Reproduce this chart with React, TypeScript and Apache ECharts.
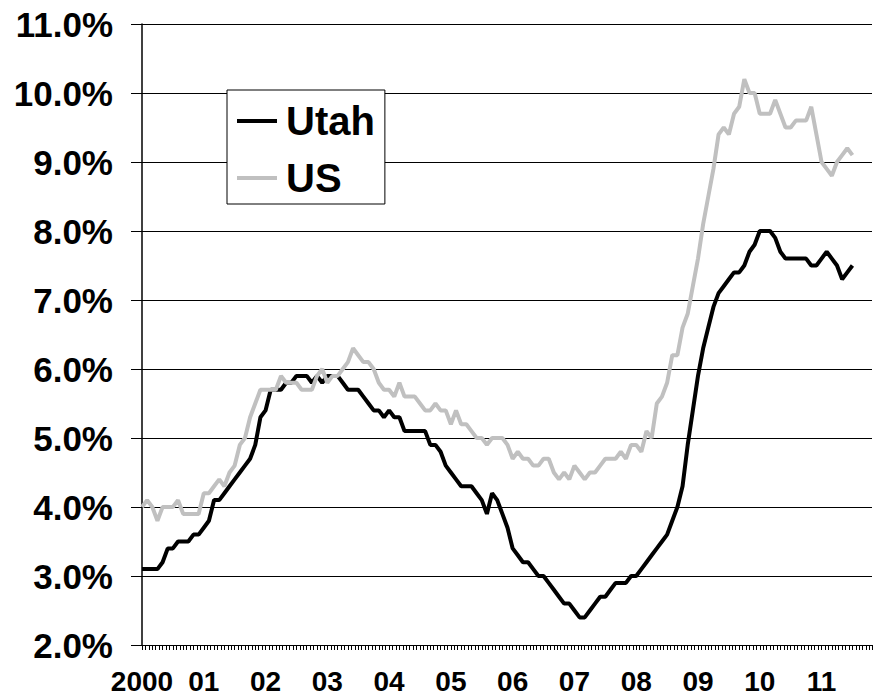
import React, { useEffect, useRef } from "react";
import * as echarts from "echarts";

// Monthly unemployment rate, Jan 2000 – Jul 2011 (percent)
const utahRate: number[] = [
  3.1, 3.1, 3.1, 3.1, 3.2, 3.4, 3.4, 3.5, 3.5, 3.5, 3.6, 3.6,
  3.7, 3.8, 4.1, 4.1, 4.2, 4.3, 4.4, 4.5, 4.6, 4.7, 4.9, 5.3,
  5.4, 5.7, 5.7, 5.7, 5.8, 5.8, 5.9, 5.9, 5.9, 5.8, 5.9, 5.8,
  5.9, 5.9, 5.9, 5.8, 5.7, 5.7, 5.7, 5.6, 5.5, 5.4, 5.4, 5.3,
  5.4, 5.3, 5.3, 5.1, 5.1, 5.1, 5.1, 5.1, 4.9, 4.9, 4.8, 4.6,
  4.5, 4.4, 4.3, 4.3, 4.3, 4.2, 4.1, 3.9, 4.2, 4.1, 3.9, 3.7,
  3.4, 3.3, 3.2, 3.2, 3.1, 3.0, 3.0, 2.9, 2.8, 2.7, 2.6, 2.6,
  2.5, 2.4, 2.4, 2.5, 2.6, 2.7, 2.7, 2.8, 2.9, 2.9, 2.9, 3.0,
  3.0, 3.1, 3.2, 3.3, 3.4, 3.5, 3.6, 3.8, 4.0, 4.3, 4.9, 5.4,
  5.9, 6.3, 6.6, 6.9, 7.1, 7.2, 7.3, 7.4, 7.4, 7.5, 7.7, 7.8,
  8.0, 8.0, 8.0, 7.9, 7.7, 7.6, 7.6, 7.6, 7.6, 7.6, 7.5, 7.5,
  7.6, 7.7, 7.6, 7.5, 7.3, 7.4, 7.5,
];

const usRate: number[] = [
  4.0, 4.1, 4.0, 3.8, 4.0, 4.0, 4.0, 4.1, 3.9, 3.9, 3.9, 3.9,
  4.2, 4.2, 4.3, 4.4, 4.3, 4.5, 4.6, 4.9, 5.0, 5.3, 5.5, 5.7,
  5.7, 5.7, 5.7, 5.9, 5.8, 5.8, 5.8, 5.7, 5.7, 5.7, 5.9, 6.0,
  5.8, 5.9, 5.9, 6.0, 6.1, 6.3, 6.2, 6.1, 6.1, 6.0, 5.8, 5.7,
  5.7, 5.6, 5.8, 5.6, 5.6, 5.6, 5.5, 5.4, 5.4, 5.5, 5.4, 5.4,
  5.2, 5.4, 5.2, 5.2, 5.1, 5.0, 5.0, 4.9, 5.0, 5.0, 5.0, 4.9,
  4.7, 4.8, 4.7, 4.7, 4.6, 4.6, 4.7, 4.7, 4.5, 4.4, 4.5, 4.4,
  4.6, 4.5, 4.4, 4.5, 4.5, 4.6, 4.7, 4.7, 4.7, 4.8, 4.7, 4.9,
  4.9, 4.8, 5.1, 5.0, 5.5, 5.6, 5.8, 6.2, 6.2, 6.6, 6.8, 7.2,
  7.6, 8.1, 8.5, 8.9, 9.4, 9.5, 9.4, 9.7, 9.8, 10.2, 10.0, 10.0,
  9.7, 9.7, 9.7, 9.9, 9.7, 9.5, 9.5, 9.6, 9.6, 9.6, 9.8, 9.4,
  9.0, 8.9, 8.8, 9.0, 9.1, 9.2, 9.1,
];

const yearLabels: string[] = ["2000", "01", "02", "03", "04", "05", "06", "07", "08", "09", "10", "11"];
const seriesNames: string[] = ["Utah", "US"];

const FONT = "'Liberation Sans', Arial, Helvetica, sans-serif";

export default function App() {
  const ref = useRef<HTMLDivElement>(null);

  useEffect(() => {
    if (!ref.current) return;
    const chart = echarts.init(ref.current, undefined, { renderer: "svg" });
    const monthsMax = 141.8;
    chart.setOption({
      animation: false,
      backgroundColor: "#ffffff",
      grid: { left: 142, top: 24, right: 0, bottom: 55, containLabel: false },
      legend: {
        data: seriesNames,
        orient: "vertical",
        left: 227,
        top: 90,
        icon: "rect",
        itemWidth: 40,
        itemHeight: 4,
        itemGap: 11,
        padding: [8, 10, 3, 10],
        backgroundColor: "#ffffff",
        borderColor: "#000000",
        borderWidth: 1,
        textStyle: {
          fontSize: 40,
          fontWeight: "bold",
          fontFamily: FONT,
          color: "#000000",
          lineHeight: 46,
          padding: [0, 0, 0, 4],
        },
      },
      xAxis: [
        {
          type: "value",
          min: 0,
          max: monthsMax,
          interval: 12,
          axisLine: { show: true, onZero: false, lineStyle: { color: "#000000", width: 1 } },
          axisTick: { show: false },
          splitLine: { show: false },
          axisLabel: {
            formatter: (v: number) => {
              const i = v / 12;
              return Number.isInteger(i) && i < yearLabels.length ? yearLabels[i] : "";
            },
            fontSize: 28,
            fontWeight: "bold",
            fontFamily: FONT,
            color: "#000000",
            margin: 22,
          },
        },
        {
          type: "value",
          min: 0,
          max: monthsMax * 1.5,
          interval: 1,
          position: "bottom",
          axisLine: { show: false },
          axisTick: { show: true, length: 5, lineStyle: { color: "#000000", width: 1 } },
          axisLabel: { show: false },
          splitLine: { show: false },
        },
      ],
      yAxis: {
        type: "value",
        min: 2,
        max: 11,
        interval: 1,
        axisLine: { show: true, onZero: false, lineStyle: { color: "#000000", width: 1.5 } },
        axisTick: { show: true, length: 11, lineStyle: { color: "#000000", width: 1 } },
        splitLine: { show: true, lineStyle: { color: "#000000", width: 1 } },
        axisLabel: {
          formatter: (v: number) => v.toFixed(1) + "%",
          fontSize: 35,
          fontWeight: "bold",
          fontFamily: FONT,
          color: "#000000",
          margin: 29,
        },
      },
      series: [
        {
          name: seriesNames[0],
          type: "line",
          xAxisIndex: 0,
          data: utahRate.map((v, i) => [i, v]),
          showSymbol: false,
          symbol: "none",
          color: "#000000",
          itemStyle: { color: "#000000" },
          lineStyle: { color: "#000000", width: 4 },
          z: 3,
        },
        {
          name: seriesNames[1],
          type: "line",
          xAxisIndex: 0,
          data: usRate.map((v, i) => [i, v]),
          showSymbol: false,
          symbol: "none",
          color: "#c0c0c0",
          itemStyle: { color: "#c0c0c0" },
          lineStyle: { color: "#c0c0c0", width: 4 },
          z: 3,
        },
      ],
    });
    return () => chart.dispose();
  }, []);

  return (
    <div
      ref={ref}
      style={{ position: "fixed", left: 0, top: 0, width: 875, height: 700, background: "#fff" }}
    />
  );
}
